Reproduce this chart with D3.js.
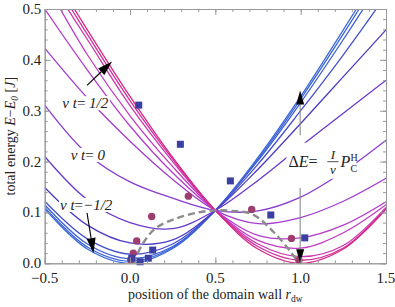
<!DOCTYPE html>
<html>
<head>
<meta charset="utf-8">
<script src="https://cdn.jsdelivr.net/npm/d3@7"></script>
<style>
    body { margin: 0; background: #fff; }
    text { font-family: "Liberation Serif", "Times New Roman", serif; }
</style>
</head>
<body>
<div id="chart"></div>
<script>
const rGrid = [-0.5, -0.25, 0, 0.25, 0.5, 0.75, 1, 1.25, 1.5];

// Energy curves, from v t = -1/2 (blue) to v t = 1/2 (magenta)
const curveE = [
    [0.107, 0.028, 0.000, 0.029, 0.104, 0.208, 0.328, 0.459, 0.595],
    [0.110, 0.032, 0.004, 0.031, 0.104, 0.205, 0.323, 0.451, 0.585],
    [0.115, 0.038, 0.009, 0.033, 0.104, 0.202, 0.316, 0.440, 0.570],
    [0.122, 0.048, 0.018, 0.038, 0.104, 0.195, 0.300, 0.410, 0.527],
    [0.149, 0.075, 0.040, 0.046, 0.104, 0.185, 0.275, 0.367, 0.459],
    [0.210, 0.125, 0.080, 0.068, 0.104, 0.163, 0.230, 0.295, 0.360],
    [0.311, 0.215, 0.160, 0.128, 0.104, 0.103, 0.130, 0.180, 0.242],
    [0.423, 0.325, 0.240, 0.165, 0.104, 0.078, 0.090, 0.122, 0.167],
    [0.500, 0.380, 0.270, 0.178, 0.104, 0.055, 0.050, 0.075, 0.121],
    [0.555, 0.410, 0.290, 0.190, 0.104, 0.045, 0.030, 0.060, 0.115],
    [0.570, 0.440, 0.310, 0.200, 0.104, 0.038, 0.013, 0.035, 0.110],
    [0.585, 0.450, 0.320, 0.205, 0.104, 0.033, 0.006, 0.030, 0.108],
    [0.595, 0.459, 0.328, 0.208, 0.104, 0.028, 0.000, 0.028, 0.106]
];
const curveColors = ["#3d6ad8", "#3d66d6", "#3f5fd4", "#4650cc", "#4b3cc4", "#6a3acb", "#8a3ccf",
                     "#a43cd0", "#b43ccb", "#c23ac0", "#cc35b0", "#d02f9a", "#d42a88"];

// Dashed path of the wall
const pathR = [0.02, 0.07, 0.15, 0.27, 0.40, 0.50, 0.60, 0.72, 0.84, 0.94, 0.99];
const pathE = [0.000, 0.036, 0.069, 0.088, 0.100, 0.104, 0.103, 0.096, 0.062, 0.023, 0.000];

// Simulation points
const squareR = [0.051, 0.295, 0.588, 0.825, 1.024, 0.010, 0.059, 0.107, 0.133];
const squareE = [0.311, 0.234, 0.162, 0.095, 0.050, 0.010, 0.003, 0.010, 0.026];
const circleR = [0.342, 0.127, 0.039, 0.019, 0.004, 0.713, 0.946, 0.990];
const circleE = [0.132, 0.092, 0.044, 0.020, 0.007, 0.106, 0.049, 0.006];

// Tick values
const xMajor = [-0.5, 0, 0.5, 1, 1.5];
const yMajor = [0, 0.1, 0.2, 0.3, 0.4, 0.5];

// Set up the dimensions of the chart
const margin = {top: 9, right: 9, bottom: 43.7, left: 44.7};
const width = 395 - margin.left - margin.right;
const height = 307 - margin.top - margin.bottom;

const x = d3.scaleLinear().domain([-0.5, 1.5]).range([0, width]);
const y = d3.scaleLinear().domain([0, 0.5]).range([height, 0]);

const svg = d3.select("#chart")
    .append("svg")
    .attr("width", 395)
    .attr("height", 307)
    .append("g")
    .attr("transform", `translate(${margin.left}, ${margin.top})`);

svg.append("clipPath")
    .attr("id", "plot-clip")
    .append("rect")
    .attr("width", width)
    .attr("height", height);

const plot = svg.append("g").attr("clip-path", "url(#plot-clip)");

// Draw the energy curves
const line = d3.line()
    .x((d) => x(d[0]))
    .y((d) => y(d[1]))
    .curve(d3.curveCatmullRom.alpha(0.5));

plot.selectAll(".energy")
    .data(curveE)
    .enter()
    .append("path")
    .attr("class", "energy")
    .attr("d", (d) => line(d.map((e, i) => [rGrid[i], e])))
    .attr("fill", "none")
    .attr("stroke", (d, i) => curveColors[i])
    .attr("stroke-width", 1.3);

// Text labels with a white box, which cut the curves like in the original
function label(g, parts, cx, baseline, size)
{
    const t = g.append("text")
        .attr("x", cx)
        .attr("y", baseline)
        .attr("text-anchor", "middle")
        .style("font-size", size + "px")
        .attr("fill", "#222");
    parts.forEach((p) => t.append("tspan").style("font-style", p[1] ? "italic" : "normal").text(p[0]));
    return t;
}

const labels = svg.append("g");
const vtLabels = [
    {r: -0.262, e: 0.305, parts: [["v t", 1], ["=", 0], [" 1/2", 1]]},
    {r: -0.247, e: 0.203, parts: [["v t", 1], ["=", 0], [" 0", 1]]},
    {r: -0.257, e: 0.105, parts: [["v t", 1], ["=", 0], ["\u22121/2", 1]]}
];
vtLabels.forEach((l) =>
{
    const t = label(labels, l.parts, x(l.r), y(l.e), 15);
    const b = t.node().getBBox();
    labels.insert("rect", "text")
        .attr("x", b.x - 1).attr("y", b.y + 1)
        .attr("width", b.width + 2).attr("height", b.height - 2)
        .attr("fill", "#fff");
});

// Delta E label: fraction I/v and P with sub/superscript
const dE = svg.append("g");
const ax = x(0.928), ay = y(0.19);
dE.append("rect")
    .attr("x", ax - 2).attr("y", ay - 24)
    .attr("width", 70).attr("height", 36)
    .attr("fill", "#fff");
const dEt = dE.append("text").attr("x", ax).attr("y", ay).style("font-size", "16px").attr("fill", "#222");
dEt.append("tspan").text("\u0394");
dEt.append("tspan").style("font-style", "italic").text("E");
dEt.append("tspan").text("=");
dE.append("line")
    .attr("x1", ax + 39).attr("x2", ax + 50)
    .attr("y1", ay - 5).attr("y2", ay - 5)
    .attr("stroke", "#222").attr("stroke-width", 0.8);
dE.append("text").attr("x", ax + 44.5).attr("y", ay - 8).attr("text-anchor", "middle")
    .style("font-size", "13px").style("font-style", "italic").attr("fill", "#222").text("I");
dE.append("text").attr("x", ax + 44.5).attr("y", ay + 7).attr("text-anchor", "middle")
    .style("font-size", "13px").style("font-style", "italic").attr("fill", "#222").text("v");
dE.append("text").attr("x", ax + 52).attr("y", ay).style("font-size", "16px")
    .style("font-style", "italic").attr("fill", "#222").text("P");
dE.append("text").attr("x", ax + 62).attr("y", ay - 6).style("font-size", "10px")
    .attr("fill", "#222").text("H");
dE.append("text").attr("x", ax + 62).attr("y", ay + 5).style("font-size", "10px")
    .attr("fill", "#222").text("C");

// Dashed path
plot.append("path")
    .attr("d", line(pathR.map((r, i) => [r, pathE[i]])))
    .attr("fill", "none")
    .attr("stroke", "#8c8c8c")
    .attr("stroke-width", 2.4)
    .attr("stroke-dasharray", "7,4");

// Circles and squares
svg.selectAll(".dot")
    .data(circleR)
    .enter()
    .append("circle")
    .attr("class", "dot")
    .attr("cx", (d) => x(d))
    .attr("cy", (d, i) => y(circleE[i]))
    .attr("r", 3.7)
    .attr("fill", "#9c3f6e");

svg.selectAll(".sq")
    .data(squareR)
    .enter()
    .append("rect")
    .attr("class", "sq")
    .attr("x", (d) => x(d) - 3.5)
    .attr("y", (d, i) => y(squareE[i]) - 3.5)
    .attr("width", 7)
    .attr("height", 7)
    .attr("fill", "#3b3fa2");

// Arrows
function arrow(r0, e0, r1, e1, stem, len, half)
{
    const x0 = x(r0), y0 = y(e0), x1 = x(r1), y1 = y(e1);
    const a = Math.atan2(y1 - y0, x1 - x0);
    const bx = x1 - len * Math.cos(a), by = y1 - len * Math.sin(a);
    svg.append("line")
        .attr("x1", x0).attr("y1", y0).attr("x2", bx).attr("y2", by)
        .attr("stroke", stem).attr("stroke-width", 1.1);
    svg.append("path")
        .attr("d", `M${x1},${y1}L${bx + half * Math.sin(a)},${by - half * Math.cos(a)}L${bx - half * Math.sin(a)},${by + half * Math.cos(a)}Z`)
        .attr("fill", "#000");
}
arrow(-0.252, 0.350, -0.105, 0.397, "#000", 15, 4.5);
arrow(-0.252, 0.099, -0.214, 0.020, "#000", 15, 4.5);
arrow(0.997, 0.252, 0.997, 0.340, "#8a8a8a", 14, 4);
arrow(0.997, 0.148, 0.997, 0.000, "#8a8a8a", 14, 4);

// Frame with inward ticks on all four sides
const frame = svg.append("g").attr("class", "frame");
const xMinor = d3.range(-0.5, 1.501, 0.1);
const yMinor = d3.range(0, 0.501, 0.02);

function ticks(axis, g, size)
{
    g.call(axis.tickSize(size).tickSizeOuter(0).tickFormat(""));
    g.selectAll("line").attr("stroke", "#999");
    g.select(".domain").attr("stroke", "#999");
}
ticks(d3.axisBottom(x).tickValues(xMinor), frame.append("g").attr("transform", `translate(0, ${height})`), -3);
ticks(d3.axisBottom(x).tickValues(xMajor), frame.append("g").attr("transform", `translate(0, ${height})`), -6);
ticks(d3.axisTop(x).tickValues(xMinor), frame.append("g"), -3);
ticks(d3.axisTop(x).tickValues(xMajor), frame.append("g"), -6);
ticks(d3.axisLeft(y).tickValues(yMinor), frame.append("g"), -3);
ticks(d3.axisLeft(y).tickValues(yMajor), frame.append("g"), -6);
ticks(d3.axisRight(y).tickValues(yMinor), frame.append("g").attr("transform", `translate(${width}, 0)`), -3);
ticks(d3.axisRight(y).tickValues(yMajor), frame.append("g").attr("transform", `translate(${width}, 0)`), -6);

// Tick labels
svg.selectAll(".xl")
    .data(xMajor)
    .enter()
    .append("text")
    .attr("x", (d) => x(d))
    .attr("y", height + 20)
    .attr("text-anchor", "middle")
    .style("font-size", "15px")
    .attr("fill", "#222")
    .text(d3.format(".1f"));

svg.selectAll(".yl")
    .data(yMajor)
    .enter()
    .append("text")
    .attr("x", -3.5)
    .attr("y", (d) => y(d) + 5)
    .attr("text-anchor", "end")
    .style("font-size", "15px")
    .attr("fill", "#222")
    .text(d3.format(".1f"));

// Axis titles
const xt = svg.append("text")
    .attr("x", width / 2)
    .attr("y", height + 36)
    .attr("text-anchor", "middle")
    .style("font-size", "14px")
    .attr("fill", "#222");
xt.append("tspan").text("position of the domain wall ");
xt.append("tspan").style("font-style", "italic").text("r");
xt.append("tspan").attr("dy", 3).style("font-size", "9.5px").text("dw");

const yt = svg.append("text")
    .attr("transform", `translate(${-29.5}, ${height / 2}) rotate(-90)`)
    .attr("text-anchor", "middle")
    .style("font-size", "14px")
    .attr("fill", "#222");
yt.append("tspan").text("total energy ");
yt.append("tspan").style("font-style", "italic").text("E");
yt.append("tspan").text("\u2212");
yt.append("tspan").style("font-style", "italic").text("E");
yt.append("tspan").attr("dy", 3).style("font-size", "9.5px").style("font-style", "italic").text("0");
yt.append("tspan").attr("dy", -3).text(" [");
yt.append("tspan").style("font-style", "italic").text("J");
yt.append("tspan").text("]");
</script>
</body>
</html>
